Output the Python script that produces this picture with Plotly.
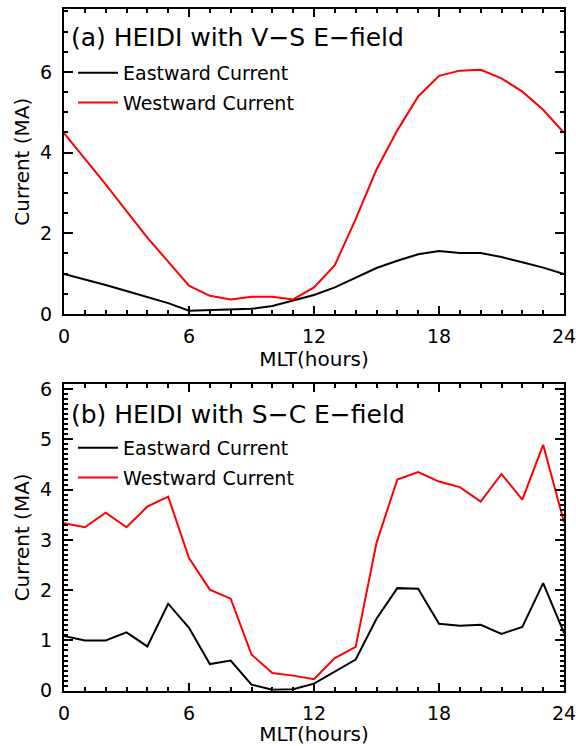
import plotly.graph_objects as go

# ---------------- data ----------------
mlt = list(range(0, 25))

# (a) HEIDI with V-S E-field
vs_east = [0.99, 0.86, 0.72, 0.57, 0.42, 0.27, 0.08, 0.10, 0.11, 0.13, 0.20, 0.33,
           0.47, 0.66, 0.90, 1.14, 1.32, 1.48, 1.56, 1.51, 1.51, 1.41, 1.28, 1.15, 0.99]
vs_west = [4.48, 3.85, 3.21, 2.55, 1.89, 1.30, 0.70, 0.45, 0.36, 0.43, 0.43, 0.36,
           0.66, 1.21, 2.35, 3.58, 4.55, 5.39, 5.90, 6.03, 6.05, 5.84, 5.51, 5.06, 4.49]

# (b) HEIDI with S-C E-field
sc_east = [1.09, 1.00, 1.00, 1.16, 0.88, 1.73, 1.25, 0.53, 0.60, 0.12, 0.02, 0.03,
           0.14, 0.38, 0.62, 1.43, 2.04, 2.03, 1.33, 1.29, 1.31, 1.13, 1.27, 2.14, 1.15]
sc_west = [3.33, 3.25, 3.54, 3.25, 3.66, 3.86, 2.64, 2.01, 1.83, 0.72, 0.35, 0.30,
           0.23, 0.65, 0.87, 2.94, 4.20, 4.35, 4.16, 4.05, 3.76, 4.31, 3.80, 4.89, 3.35]

series_names = ["Eastward Current", "Westward Current"]
panel_titles = ["(a) HEIDI with V\u2212S E\u2212field", "(b) HEIDI with S\u2212C E\u2212field"]
x_ticks = [0, 6, 12, 18, 24]

FONT = "DejaVu Sans"
W, H = 576, 746

fig = go.Figure()

fig.add_trace(go.Scatter(x=mlt, y=vs_east, mode="lines", name=series_names[0],
                         line=dict(color="black", width=2), xaxis="x", yaxis="y",
                         legend="legend", legendgroup="a1"))
fig.add_trace(go.Scatter(x=mlt, y=vs_west, mode="lines", name=series_names[1],
                         line=dict(color="#ff0000", width=2), xaxis="x", yaxis="y",
                         legend="legend", legendgroup="a2"))
fig.add_trace(go.Scatter(x=mlt, y=sc_east, mode="lines", name=series_names[0],
                         line=dict(color="black", width=2), xaxis="x2", yaxis="y2",
                         legend="legend2", legendgroup="b1"))
fig.add_trace(go.Scatter(x=mlt, y=sc_west, mode="lines", name=series_names[1],
                         line=dict(color="#ff0000", width=2), xaxis="x2", yaxis="y2",
                         legend="legend2", legendgroup="b2"))

xl, xr = 64 / W, 564 / W
top_dom = [1 - 314 / H, 1 - 9.3 / H]
bot_dom = [1 - 690.7 / H, 1 - 384 / H]

tickfont = dict(family=FONT, size=19, color="black")
titlefont = dict(family=FONT, size=20, color="black")

def xaxis_cfg(anchor):
    return dict(domain=[xl, xr], anchor=anchor, range=[0, 24], tickvals=x_ticks,
                ticks="inside", ticklen=8, tickwidth=1.5, tickcolor="black",
                mirror="allticks", showline=True, linewidth=2, linecolor="black",
                showgrid=False, zeroline=False, tickfont=tickfont, automargin=False,
                ticklabelstandoff=4, ticklabeloverflow="allow",
                minor=dict(dtick=1, ticks="inside", ticklen=4, tickwidth=1.5,
                           tickcolor="black", showgrid=False),
                title=dict(text="MLT(hours)", font=titlefont, standoff=4))

def yaxis_cfg(anchor, dom, rng, dtick, mdtick):
    return dict(domain=dom, anchor=anchor, range=rng, dtick=dtick, tick0=0,
                ticks="inside", ticklen=9, tickwidth=1.5, tickcolor="black",
                mirror="allticks", showline=True, linewidth=2, linecolor="black",
                showgrid=False, zeroline=False, tickfont=tickfont, automargin=False,
                ticklabelstandoff=6, ticklabeloverflow="allow",
                minor=dict(dtick=mdtick, tick0=0, ticks="inside", ticklen=4,
                           tickwidth=1.5, tickcolor="black", showgrid=False),
                title=dict(text="Current (MA)", font=titlefont, standoff=5))

legend_common = dict(font=dict(family=FONT, size=19, color="black"),
                     bgcolor="rgba(0,0,0,0)", borderwidth=0,
                     traceorder="grouped", tracegroupgap=2,
                     xanchor="left", yanchor="top", itemwidth=40)

fig.update_layout(
    width=W, height=H,
    margin=dict(l=0, r=0, t=0, b=0, autoexpand=False),
    paper_bgcolor="white", plot_bgcolor="white",
    font=dict(family=FONT, color="black"),
    xaxis=xaxis_cfg("y"),
    yaxis=yaxis_cfg("x", top_dom, [0, 7.55], 2, 0.5),
    xaxis2=xaxis_cfg("y2"),
    yaxis2=yaxis_cfg("x2", bot_dom, [0, 6.1], 1, 0.1),
    legend=dict(x=73 / W, y=1 - 54 / H, **legend_common),
    legend2=dict(x=73 / W, y=1 - 429 / H, **legend_common),
    annotations=[
        dict(text=panel_titles[0], xref="paper", yref="paper", x=69 / W, y=1 - 37 / H,
             xanchor="left", yanchor="middle", showarrow=False,
             font=dict(family=FONT, size=25, color="black")),
        dict(text=panel_titles[1], xref="paper", yref="paper", x=69 / W, y=1 - 414 / H,
             xanchor="left", yanchor="middle", showarrow=False,
             font=dict(family=FONT, size=25, color="black")),
    ],
)

fig.write_html("out.html")
